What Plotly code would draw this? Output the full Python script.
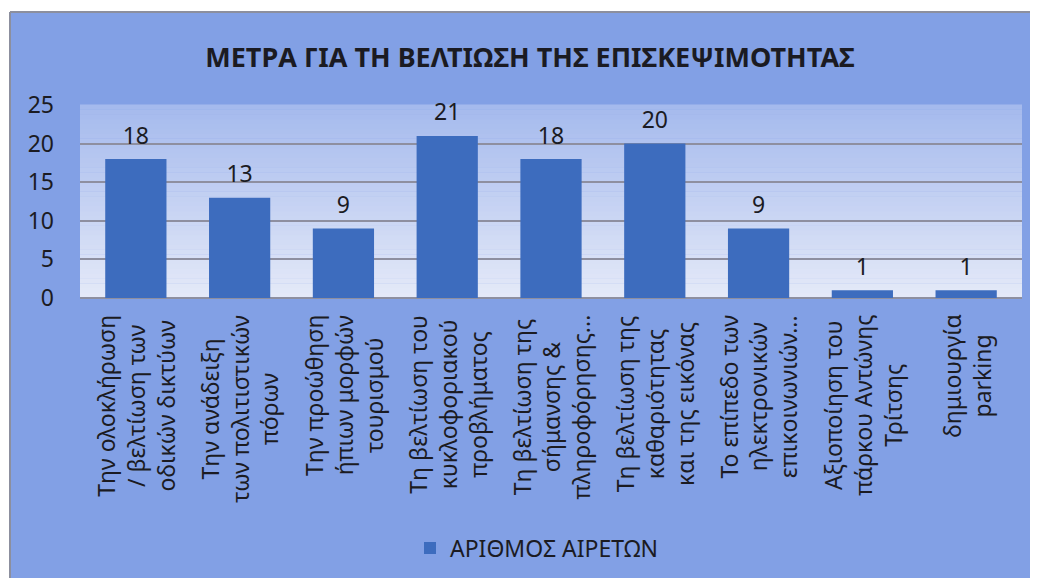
import plotly.graph_objects as go

# data
categories = [
    "Την ολοκλήρωση<br>/ βελτίωση των<br>οδικών δικτύων",
    "Την ανάδειξη<br>των πολιτιστικών<br>πόρων",
    "Την προώθηση<br>ήπιων μορφών<br>τουρισμού",
    "Τη βελτίωση του<br>κυκλοφοριακού<br>προβλήματος",
    "Τη βελτίωση της<br>σήμανσης &<br>πληροφόρησης...",
    "Τη βελτίωση της<br>καθαριότητας<br>και της εικόνας",
    "Το επίπεδο των<br>ηλεκτρονικών<br>επικοινωνιών...",
    "Αξιοποίηση του<br>πάρκου Αντώνης<br>Τρίτσης",
    "δημιουργία<br>parking",
]
values = [18, 13, 9, 21, 18, 20, 9, 1, 1]
y_ticks = [0, 5, 10, 15, 20, 25]
series_name = "ΑΡΙΘΜΟΣ ΑΙΡΕΤΩΝ"
chart_title = "ΜΕΤΡΑ ΓΙΑ ΤΗ ΒΕΛΤΙΩΣΗ ΤΗΣ ΕΠΙΣΚΕΨΙΜΟΤΗΤΑΣ"

FONT = "Noto Sans"
txt = "#1b1b22"
W, H = 1030, 570   # page body adds 8px on top/left

fig = go.Figure()
fig.add_trace(go.Bar(
    x=categories, y=values, name=series_name,
    marker=dict(color="#3d6cbe", line=dict(width=0)),
    showlegend=True,
))
# value labels, lifted a bit above the bars like in Excel
fig.add_trace(go.Scatter(
    x=categories, y=values, mode="text+markers", text=values,
    textposition="top center", cliponaxis=False, hoverinfo="skip",
    marker=dict(size=14, opacity=0),
    textfont=dict(size=23, color=txt, family=FONT),
    showlegend=False,
))

# category labels: rotated, lines centred (Excel style)
for c in categories:
    fig.add_annotation(x=c, y=-15 / 193, xref="x", yref="paper",
                       text=c, textangle=-90, showarrow=False,
                       xanchor="center", yanchor="top", align="center",
                       font=dict(size=23, color=txt, family=FONT))

# plot area gradient (darker at top, lighter at bottom)
top = (165, 186, 237)
bot = (228, 233, 248)
n = 40
for i in range(n):
    t = i / (n - 1)
    c = [round(bot[k] + (top[k] - bot[k]) * t) for k in range(3)]
    fig.add_shape(type="rect", xref="x domain", yref="y domain",
                  x0=0, x1=1, y0=i / n, y1=(i + 1) / n + 0.002,
                  fillcolor="rgb(%d,%d,%d)" % tuple(c),
                  line_width=0, layer="below")

# white scan border top / left, with the chart frame edge
edge_x = -70 / 942
edge_y = (290 - 4) / 193
fig.add_shape(type="rect", xref="paper", yref="paper",
              x0=-0.1, x1=1.1, y0=edge_y, y1=1.7,
              fillcolor="white", line_width=0, layer="below")
fig.add_shape(type="rect", xref="paper", yref="paper",
              x0=-0.1, x1=edge_x, y0=-2, y1=1.7,
              fillcolor="white", line_width=0, layer="below")
fig.add_shape(type="line", xref="paper", yref="paper",
              x0=edge_x, x1=1.1, y0=edge_y, y1=edge_y,
              line=dict(color="#8c8f9e", width=2), layer="below")
fig.add_shape(type="line", xref="paper", yref="paper",
              x0=edge_x, x1=edge_x, y0=-2, y1=edge_y,
              line=dict(color="#8c8f9e", width=2), layer="below")

fig.update_layout(
    width=W, height=H,
    margin=dict(l=72, r=16, t=97, b=280, autoexpand=False),
    paper_bgcolor="#82a0e5",
    plot_bgcolor="rgba(0,0,0,0)",
    font=dict(family=FONT, color=txt),
    bargap=0.41,
    title=dict(text="<b>" + chart_title + "</b>", x=522 / W, xref="container",
               xanchor="center", y=1 - 50 / H, yanchor="middle",
               font=dict(size=27, color=txt, family=FONT)),
    legend=dict(orientation="h", x=(537 - 80) / 942, xanchor="center",
                y=(298 - 548) / 193, yanchor="middle",
                bgcolor="rgba(0,0,0,0)", font=dict(size=23, color=txt)),
    xaxis=dict(showticklabels=False, automargin=False,
               showgrid=False, showline=False, ticks=""),
    yaxis=dict(range=[0, 25], tickvals=y_ticks, tickfont=dict(size=23, color=txt),
               automargin=False,
               showgrid=True, gridcolor="#8e8fa0", gridwidth=1.5,
               zeroline=True, zerolinecolor="#8e8fa0", zerolinewidth=1.5,
               ticks="", ticklabelstandoff=25),
)

fig.write_html("out.html")
